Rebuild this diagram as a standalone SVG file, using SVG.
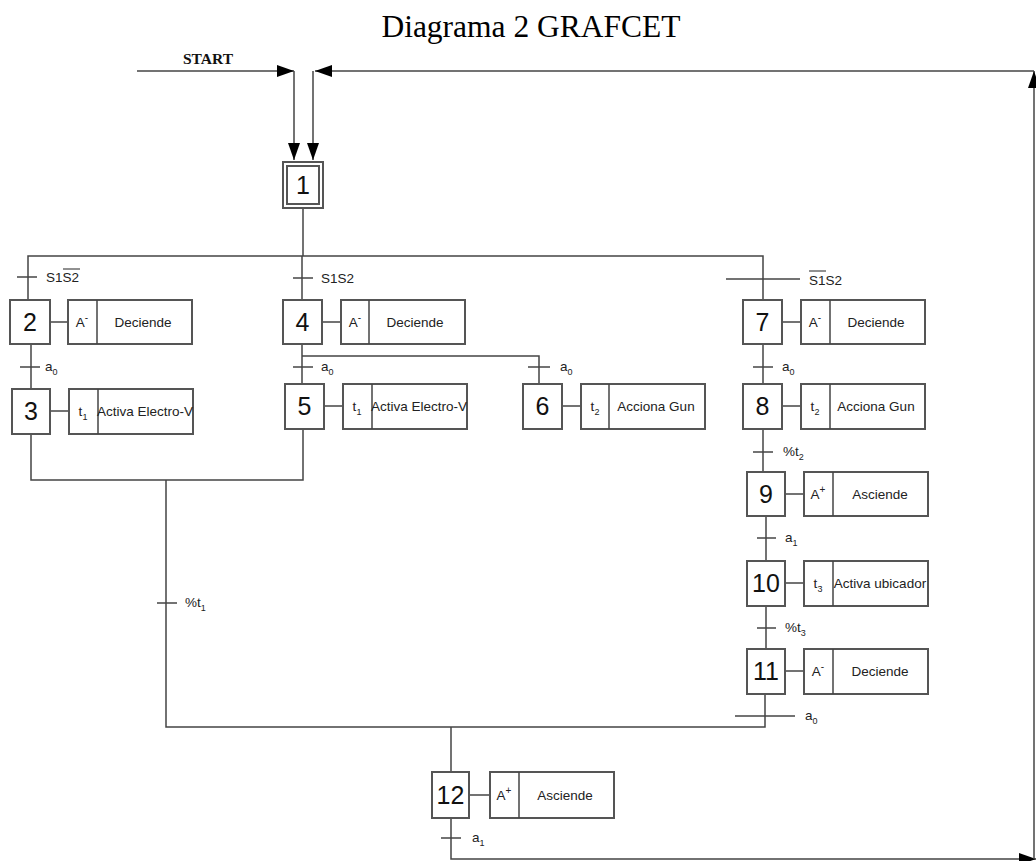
<svg xmlns="http://www.w3.org/2000/svg" width="1036" height="861" viewBox="0 0 1036 861">
<style>
.ln{fill:none;stroke:#444;stroke-width:1.5}
.tr{stroke:#444;stroke-width:1.5}
.st{fill:#fff;stroke:#555;stroke-width:2}
.ac{fill:#fff;stroke:#555;stroke-width:2}
.num{font-family:"Liberation Sans",Arial,sans-serif;font-size:25px;fill:#111;text-anchor:middle}
.at{font-family:"Liberation Sans",Arial,sans-serif;font-size:13.5px;fill:#222;text-anchor:middle}
.lb{font-family:"Liberation Sans",Arial,sans-serif;font-size:13.5px;fill:#222}
.sub{font-size:9px}
</style>
<defs>
<marker id="ar" markerWidth="17" markerHeight="12" refX="17" refY="6" orient="auto" markerUnits="userSpaceOnUse">
<path d="M0,0 L17,6 L0,12 z" fill="#000"/>
</marker>
</defs>
<rect width="1036" height="861" fill="#fff"/>
<text x="531" y="37" font-family="Liberation Serif,Times New Roman,serif" font-size="31.5" text-anchor="middle" fill="#000">Diagrama 2 GRAFCET</text>
<text x="183" y="64" font-family="Liberation Serif,Times New Roman,serif" font-size="15.5" font-weight="bold" fill="#111">START</text>

<g id="connectors">
<path class="ln" d="M137,71 H294" marker-end="url(#ar)"/>
<path class="ln" d="M294,71 V160" marker-end="url(#ar)"/>
<path class="ln" d="M451,818 V859 H1036" marker-end="url(#ar)"/>
<path class="ln" d="M1034,859 V71" marker-end="url(#ar)"/>
<path class="ln" d="M1034,71 H315" marker-end="url(#ar)"/>
<path class="ln" d="M313,71 V160" marker-end="url(#ar)"/>
<path class="ln" d="M303,208 V256"/>
<path class="ln" d="M28,300 V256 H763 V300"/>
<path class="ln" d="M302,256 V300"/>
<path class="ln" d="M31,344 V389"/>
<path class="ln" d="M302,344 V384"/>
<path class="ln" d="M302,356 H539 V384"/>
<path class="ln" d="M763,344 V384"/>
<path class="ln" d="M763,429 V472"/>
<path class="ln" d="M766,516 V561"/>
<path class="ln" d="M766,606 V649"/>
<path class="ln" d="M31,434 V480 H303 V429"/>
<path class="ln" d="M166,480 V727 H765 V694"/>
<path class="ln" d="M451,727 V772"/>
<line class="tr" x1="17" y1="277" x2="37" y2="277"/>
<line class="tr" x1="293" y1="278" x2="313" y2="278"/>
<line class="tr" x1="726" y1="279" x2="800" y2="279"/>
<line class="tr" x1="20" y1="367" x2="40" y2="367"/>
<line class="tr" x1="293" y1="367" x2="313" y2="367"/>
<line class="tr" x1="528" y1="367" x2="550" y2="367"/>
<line class="tr" x1="753" y1="367" x2="773" y2="367"/>
<line class="tr" x1="753" y1="452" x2="773" y2="452"/>
<line class="tr" x1="757" y1="538" x2="776" y2="538"/>
<line class="tr" x1="757" y1="628" x2="776" y2="628"/>
<line class="tr" x1="735" y1="716" x2="795" y2="716"/>
<line class="tr" x1="157" y1="603" x2="177" y2="603"/>
<line class="tr" x1="441" y1="838" x2="461" y2="838"/>
<line class="tr" x1="50" y1="322" x2="68" y2="322"/>
<line class="tr" x1="50" y1="411" x2="69" y2="411"/>
<line class="tr" x1="322" y1="322" x2="341" y2="322"/>
<line class="tr" x1="324" y1="406" x2="343" y2="406"/>
<line class="tr" x1="562" y1="406" x2="581" y2="406"/>
<line class="tr" x1="782" y1="322" x2="801" y2="322"/>
<line class="tr" x1="782" y1="406" x2="801" y2="406"/>
<line class="tr" x1="785" y1="494" x2="804" y2="494"/>
<line class="tr" x1="785" y1="583" x2="804" y2="583"/>
<line class="tr" x1="785" y1="671" x2="804" y2="671"/>
<line class="tr" x1="469" y1="795" x2="490" y2="795"/>
</g>

<g id="labels">
<text class="lb" x="46" y="282">S1S2</text>
<line x1="63" y1="269" x2="80" y2="269" stroke="#222" stroke-width="1"/>
<text class="lb" x="321" y="283">S1S2</text>
<text class="lb" x="809" y="285">S1S2</text>
<line x1="809" y1="271" x2="826" y2="271" stroke="#222" stroke-width="1"/>
<text class="lb" x="45" y="371">a<tspan class="sub" dy="4">0</tspan></text>
<text class="lb" x="321" y="371">a<tspan class="sub" dy="4">0</tspan></text>
<text class="lb" x="560" y="371">a<tspan class="sub" dy="4">0</tspan></text>
<text class="lb" x="782" y="371">a<tspan class="sub" dy="4">0</tspan></text>
<text class="lb" x="783" y="456">%t<tspan class="sub" dy="4">2</tspan></text>
<text class="lb" x="785" y="542">a<tspan class="sub" dy="4">1</tspan></text>
<text class="lb" x="785" y="632">%t<tspan class="sub" dy="4">3</tspan></text>
<text class="lb" x="805" y="720">a<tspan class="sub" dy="4">0</tspan></text>
<text class="lb" x="185" y="607">%t<tspan class="sub" dy="4">1</tspan></text>
<text class="lb" x="472" y="842">a<tspan class="sub" dy="4">1</tspan></text>
</g>

<g id="step1">
<rect class="st" x="283" y="162" width="40" height="46"/>
<rect class="st" x="287" y="166" width="32" height="38"/>
<text class="num" x="303" y="194">1</text>
</g>
<g id="step2">
<rect class="st" x="10" y="300" width="40" height="44"/>
<text class="num" x="30" y="331">2</text>
<rect class="ac" x="68" y="300" width="124" height="44"/>
<line class="tr" x1="97" y1="300" x2="97" y2="344"/>
<text class="at" x="82" y="327">A<tspan font-size="10" dy="-6">-</tspan></text>
<text class="at" x="143" y="327">Deciende</text>
</g>
<g id="step3">
<rect class="st" x="12" y="389" width="38" height="45"/>
<text class="num" x="31" y="420">3</text>
<rect class="ac" x="69" y="389" width="124" height="45"/>
<line class="tr" x1="98" y1="389" x2="98" y2="434"/>
<text class="at" x="83" y="416">t<tspan font-size="9" dy="4">1</tspan></text>
<text class="at" x="145" y="416">Activa Electro-V</text>
</g>
<g id="step4">
<rect class="st" x="283" y="300" width="39" height="44"/>
<text class="num" x="302.5" y="331">4</text>
<rect class="ac" x="341" y="300" width="124" height="44"/>
<line class="tr" x1="369" y1="300" x2="369" y2="344"/>
<text class="at" x="355" y="327">A<tspan font-size="10" dy="-6">-</tspan></text>
<text class="at" x="415" y="327">Deciende</text>
</g>
<g id="step5">
<rect class="st" x="285" y="384" width="39" height="45"/>
<text class="num" x="304.5" y="415">5</text>
<rect class="ac" x="343" y="384" width="124" height="45"/>
<line class="tr" x1="372" y1="384" x2="372" y2="429"/>
<text class="at" x="357" y="411">t<tspan font-size="9" dy="4">1</tspan></text>
<text class="at" x="419" y="411">Activa Electro-V</text>
</g>
<g id="step6">
<rect class="st" x="523" y="384" width="39" height="45"/>
<text class="num" x="542.5" y="415">6</text>
<rect class="ac" x="581" y="384" width="124" height="45"/>
<line class="tr" x1="609" y1="384" x2="609" y2="429"/>
<text class="at" x="595" y="411">t<tspan font-size="9" dy="4">2</tspan></text>
<text class="at" x="656" y="411">Acciona Gun</text>
</g>
<g id="step7">
<rect class="st" x="743" y="300" width="39" height="44"/>
<text class="num" x="762.5" y="331">7</text>
<rect class="ac" x="801" y="300" width="124" height="44"/>
<line class="tr" x1="830" y1="300" x2="830" y2="344"/>
<text class="at" x="815" y="327">A<tspan font-size="10" dy="-6">-</tspan></text>
<text class="at" x="876" y="327">Deciende</text>
</g>
<g id="step8">
<rect class="st" x="743" y="384" width="39" height="45"/>
<text class="num" x="762.5" y="415">8</text>
<rect class="ac" x="801" y="384" width="124" height="45"/>
<line class="tr" x1="830" y1="384" x2="830" y2="429"/>
<text class="at" x="815" y="411">t<tspan font-size="9" dy="4">2</tspan></text>
<text class="at" x="876" y="411">Acciona Gun</text>
</g>
<g id="step9">
<rect class="st" x="747" y="472" width="38" height="44"/>
<text class="num" x="766" y="503">9</text>
<rect class="ac" x="804" y="472" width="124" height="44"/>
<line class="tr" x1="833" y1="472" x2="833" y2="516"/>
<text class="at" x="818" y="499">A<tspan font-size="10" dy="-6">+</tspan></text>
<text class="at" x="880" y="499">Asciende</text>
</g>
<g id="step10">
<rect class="st" x="747" y="561" width="38" height="45"/>
<text class="num" x="766" y="592">10</text>
<rect class="ac" x="804" y="561" width="124" height="45"/>
<line class="tr" x1="833" y1="561" x2="833" y2="606"/>
<text class="at" x="818" y="588">t<tspan font-size="9" dy="4">3</tspan></text>
<text class="at" x="880" y="588">Activa ubicador</text>
</g>
<g id="step11">
<rect class="st" x="747" y="649" width="38" height="45"/>
<text class="num" x="766" y="680">11</text>
<rect class="ac" x="804" y="649" width="124" height="45"/>
<line class="tr" x1="833" y1="649" x2="833" y2="694"/>
<text class="at" x="818" y="676">A<tspan font-size="10" dy="-6">-</tspan></text>
<text class="at" x="880" y="676">Deciende</text>
</g>
<g id="step12">
<rect class="st" x="432" y="772" width="37" height="46"/>
<text class="num" x="450.5" y="804">12</text>
<rect class="ac" x="490" y="772" width="124" height="46"/>
<line class="tr" x1="519" y1="772" x2="519" y2="818"/>
<text class="at" x="504" y="800">A<tspan font-size="10" dy="-6">+</tspan></text>
<text class="at" x="565" y="800">Asciende</text>
</g>
</svg>
